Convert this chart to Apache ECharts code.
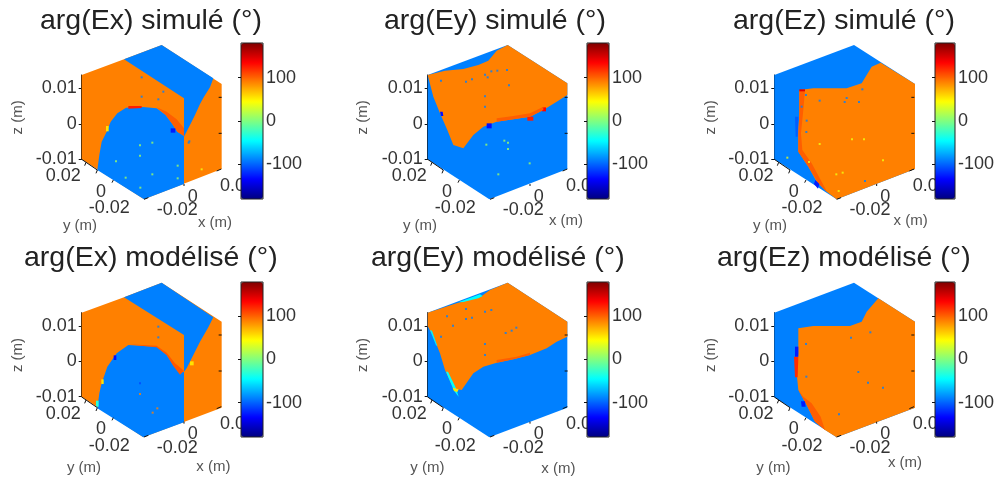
<!DOCTYPE html>
<html><head><meta charset="utf-8">
<style>html,body{margin:0;padding:0;background:#fff}#c{width:1000px;height:481px;filter:blur(0.45px)}</style>
<script src="https://cdn.jsdelivr.net/npm/echarts@6/dist/echarts.min.js"></script>
</head><body><div id="c"></div>
<script>
const titles=['arg(Ex) simulé (°)','arg(Ey) simulé (°)','arg(Ez) simulé (°)','arg(Ex) modélisé (°)','arg(Ey) modélisé (°)','arg(Ez) modélisé (°)'];
const zTicks=[-0.01,0,0.01];
const colorbarTicks=[-100,0,100];
const yTickLabels=['0.02','0','-0.02'];
const xTickLabels=['-0.02','0','0.02'];
const jetColors=['#000080','#0000ff','#0080ff','#00ffff','#80ff80','#ffff00','#ff8000','#ff0000','#800000'];

// Panel surfaces: phase of each region (deg) and its outline in the panel's projected plane.
const exSimPhases=[90,-90,-90,102,125,-125,55];
const exSimShapes=[
 [[245,225],[372,178],[485,135],[665,252],[665,507],[432,598],[245,478]],
 [[372,178],[485,135],[640,235],[630,262],[612,290],[600,312],[585,345],[570,375],[552,410],[552,295]],
 [[292,510],[298,465],[305,425],[320,395],[332,365],[352,340],[378,323],[420,320],[470,325],[497,345],[517,372],[532,395],[552,408],[552,552],[432,598]],
 [[470,322],[500,335],[530,358],[552,385],[552,408],[532,395],[517,372],[497,345]],
 [[385,318],[425,318],[425,324],[385,326]],
 [[512,385],[526,385],[526,398],[512,398]],
 [[318,378],[326,378],[326,394],[318,394]]
];
const exSimSpecks=[[420,436,10],[457,428,10],[420,467,10],[348,484,10],[533,497,10],[457,523,10],[377,533,10],[533,535,10],[421,563,10],[425,232,-90],[490,275,-90],[425,290,-90],[475,298,-90],[568,424,-90],[566,428,-90],[605,508,40]];

const eySimPhases=[-90,90,-130,-130,125,135,102];
const eySimShapes=[
 [[293,225],[533,135],[712,250],[712,507],[478,598],[293,478]],
 [[293,225],[345,212],[400,207],[445,195],[475,182],[500,152],[533,135],[712,250],[712,285],[680,305],[640,330],[600,350],[550,358],[500,365],[460,380],[430,405],[400,445],[370,435],[352,390],[330,340],[310,290]],
 [[330,335],[338,335],[340,348],[333,348]],
 [[470,370],[485,370],[485,385],[470,385]],
 [[592,350],[610,350],[610,362],[592,362]],
 [[636,322],[648,322],[648,334],[636,334]],
 [[500,355],[550,348],[600,340],[640,320],[640,330],[600,350],[550,358],[500,365]]
];
const eySimSpecks=[[333,242,-90],[408,245,-90],[426,238,-90],[465,224,-90],[484,214,-90],[502,212,-90],[531,210,-90],[473,232,-90],[537,256,-90],[465,289,-90],[465,320,-90],[469,434,10],[523,422,10],[534,428,10],[534,447,10],[599,490,10],[505,523,10]];

const ezSimPhases=[-90,90,102,145,-125,-102];
const ezSimShapes=[
 [[313,225],[552,135],[735,252],[735,507],[500,598],[313,478]],
 [[632,188],[735,252],[735,507],[500,598],[470,575],[440,545],[415,500],[385,455],[385,400],[388,340],[388,270],[430,265],[480,265],[530,265],[575,250],[590,225],[605,200]],
 [[388,270],[405,270],[400,330],[393,400],[397,450],[425,490],[452,540],[472,577],[445,550],[415,500],[385,455],[385,400],[388,340]],
 [[388,268],[405,268],[405,274],[388,274]],
 [[436,540],[448,552],[444,566],[432,552]],
 [[375,350],[385,350],[383,410],[377,410]]
];
const ezSimSpecks=[[408,285,-90],[449,302,-90],[530,294,-90],[524,306,-90],[567,306,-90],[577,268,-90],[395,320,-90],[410,362,-90],[409,396,-90],[449,432,40],[546,418,40],[582,418,40],[639,481,40],[417,486,40],[499,523,40],[518,518,40],[585,543,-90],[506,573,40],[352,473,40]];

const exModPhases=[90,-90,-90,104,55,55,-130,-30];
const exModShapes=[
 [[245,218],[372,172],[485,128],[665,245],[665,503],[430,592],[245,470]],
 [[372,172],[485,128],[640,232],[625,262],[600,305],[580,345],[560,385],[552,395],[552,285]],
 [[292,505],[298,460],[305,430],[322,380],[350,340],[385,315],[430,318],[470,320],[500,345],[520,375],[540,398],[552,395],[552,547],[430,592]],
 [[385,313],[470,317],[500,338],[525,370],[552,392],[540,404],[520,378],[500,345],[470,322],[430,318]],
 [[570,364],[581,364],[581,376],[570,376]],
 [[304,418],[311,418],[311,432],[304,432]],
 [[341,346],[349,346],[349,360],[341,360]],
 [[288,482],[296,482],[296,500],[288,500]]
];
const exModSpecks=[[420,430,-110],[420,462,90],[458,518,90],[472,505,90],[475,260,-90],[475,292,-90]];

const eyModPhases=[-90,90,-45,-45,55,-50,102];
const eyModShapes=[
 [[293,218],[533,128],[712,245],[712,503],[478,592],[293,472]],
 [[293,218],[380,190],[450,172],[480,150],[533,128],[712,245],[712,290],[680,305],[650,325],[600,345],[550,358],[500,368],[460,380],[430,400],[395,450],[370,445],[345,390],[330,340],[310,290],[293,258]],
 [[385,187],[450,163],[458,168],[445,175],[400,186]],
 [[348,395],[354,395],[378,445],[386,470],[372,452]],
 [[368,443],[386,448],[382,456],[372,453]],
 [[300,270],[306,272],[322,318],[318,316]],
 [[500,360],[560,350],[600,338],[600,345],[550,358],[500,368]]
];
const eyModSpecks=[[351,229,-90],[408,207,-90],[408,237,-90],[426,233,-90],[465,215,-90],[484,210,-90],[369,257,-90],[333,290,-90],[465,312,-90],[465,345,-90],[527,279,-90],[545,272,-90],[559,263,-90]];

const ezModPhases=[-90,90,102,120,-125,-125];
const ezModShapes=[
 [[313,218],[552,128],[735,245],[735,503],[500,592],[313,472]],
 [[625,175],[735,245],[735,503],[500,592],[465,570],[435,545],[410,495],[385,450],[380,400],[385,340],[385,265],[430,258],[480,258],[540,258],[575,245],[590,215]],
 [[385,450],[400,470],[425,490],[452,530],[465,570],[435,545],[410,495]],
 [[372,350],[385,350],[383,412],[375,412]],
 [[393,484],[405,484],[407,500],[395,500]],
 [[375,320],[385,320],[385,350],[375,350]]
];
const ezModSpecks=[[408,312,-90],[409,410,-90],[543,293,-90],[601,277,-90],[565,396,-90],[594,428,-90],[639,443,-90],[507,523,-90]];

const panelPhases=[exSimPhases,eySimPhases,ezSimPhases,exModPhases,eyModPhases,ezModPhases];
const panelShapes=[exSimShapes,eySimShapes,ezSimShapes,exModShapes,eyModShapes,ezModShapes];
const panelSpecks=[exSimSpecks,eySimSpecks,ezSimSpecks,exModSpecks,eyModSpecks,ezModSpecks];

// Layout
const colLeft=[0,330,670], rowTop=[0,240];
const cubeShift=[0,48,68], rowShift=[0,-7];
const titleLeft=[40,384,733,24,371,717];
const titleTop=[7,7,7,244,244,244];
const cbLeft=[241,587,935], cbWidth=[22,22,20];
const cbTop=[43,282], cbHeight=[156,155];
const zAxisLeft=[81.7,427.7,774.3];
const zAxisTop=[75,312.7], zAxisHeight=[84.5,84];
const yNamePos=[[240,677],[270,677],[300,677],[252,685],[292,685],[310,685]];
const xNamePos=[[645,668],[708,662],[722,662],[640,682],[685,688],[705,668]];
const zNamePos=[[55,352],[100,352],[122,352],[55,345],[100,345],[122,345]];
const edgeMarks=[[[245,478],[292,510]],[[258,487],[254,497]],[[292,510],[288,520]],[[340,540],[336,548]],[[665,292],[656,292]],[[665,400],[656,400]],[[664,507],[650,513]],[[432,598],[445,593]],[[552,552],[552,558]]];

const font='"Liberation Sans",Arial,sans-serif';
const chart=echarts.init(document.getElementById('c'),null,{renderer:'canvas'});
const grid=[],xAxis=[],yAxis=[],series=[],visualMap=[],title=[];
titles.forEach((t,i)=>{
  const c=i%3,r=i<3?0:1,dx=cubeShift[c],dy=rowShift[r];
  title.push({text:t,left:titleLeft[i],top:titleTop[i],padding:0,textStyle:{fontFamily:font,fontSize:28.5,fontWeight:'normal',color:'#222'}});
  grid.push({left:colLeft[c],top:rowTop[r],width:330,height:240,containLabel:false});
  xAxis.push({type:'value',min:0,max:990,show:false,gridIndex:i*3});
  yAxis.push({type:'value',min:0,max:720,inverse:true,show:false,gridIndex:i*3});
  grid.push({left:zAxisLeft[c],top:zAxisTop[r],width:1,height:zAxisHeight[r]});
  xAxis.push({type:'value',show:false,gridIndex:i*3+1,min:0,max:1});
  yAxis.push({type:'value',gridIndex:i*3+1,min:-0.01,max:0.01375,position:'left',
    splitLine:{show:false},axisLine:{show:true,onZero:false,lineStyle:{color:'#111',width:1}},
    axisTick:{show:true,length:3,customValues:zTicks,lineStyle:{color:'#111'}},
    axisLabel:{customValues:zTicks,margin:5,fontFamily:font,fontSize:18,color:'#333',formatter:v=>String(v)}});
  grid.push({left:cbLeft[c],top:cbTop[r],width:cbWidth[c],height:cbHeight[r],show:true,borderColor:'#222',borderWidth:1,backgroundColor:'transparent',z:6});
  xAxis.push({type:'value',show:false,gridIndex:i*3+2,min:0,max:1});
  yAxis.push({type:'value',gridIndex:i*3+2,min:-180,max:180,position:'right',z:7,
    splitLine:{show:false},axisLine:{show:false},
    axisTick:{show:true,inside:true,length:3,customValues:colorbarTicks,lineStyle:{color:'#111'}},
    axisLabel:{customValues:colorbarTicks,margin:3,fontFamily:font,fontSize:18,color:'#333',formatter:v=>String(v)}});

  const shapes=panelShapes[i];
  const surfIdx=series.length;
  series.push({type:'custom',xAxisIndex:i*3,yAxisIndex:i*3,silent:true,clip:false,z:2,animation:false,
    data:panelPhases[i].map((p,k)=>[p,k]),
    renderItem:(params,api)=>{
      const pts=shapes[api.value(1)].map(q=>api.coord(q));
      return {type:'polygon',shape:{points:pts},style:{fill:api.visual('color')}};
    }});
  series.push({type:'scatter',xAxisIndex:i*3,yAxisIndex:i*3,silent:true,clip:false,z:3,animation:false,
    symbol:'rect',symbolSize:2,encode:{x:1,y:2},
    data:panelSpecks[i].map(s=>[s[2],s[0],s[1]])});
  const texts=[];
  const yAnchors=[[190,528],[303,575],[328,625]];
  const xAnchors=[[532,630],[578,590],[660,558]];
  yTickLabels.forEach((l,k)=>texts.push({t:l,u:yAnchors[k][0]+dx,v:yAnchors[k][1]+dy,a:'center',s:18,f:'#333'}));
  xTickLabels.forEach((l,k)=>texts.push({t:l,u:xAnchors[k][0]+dx,v:xAnchors[k][1]+dy,a:k==2?'left':'center',s:18,f:'#333'}));
  texts.push({t:'y (m)',u:yNamePos[i][0],v:yNamePos[i][1],a:'center',s:15,f:'#555'});
  texts.push({t:'x (m)',u:xNamePos[i][0],v:xNamePos[i][1],a:'center',s:15,f:'#555'});
  texts.push({t:'z (m)',u:zNamePos[i][0],v:zNamePos[i][1],a:'center',s:15,f:'#555',rot:Math.PI/2});
  series.push({type:'custom',xAxisIndex:i*3,yAxisIndex:i*3,silent:true,clip:false,z:3,animation:false,
    data:texts.map(q=>[q.u,q.v]),
    renderItem:(params,api)=>{
      const q=texts[params.dataIndex],p=api.coord([api.value(0),api.value(1)]);
      return {type:'text',x:p[0],y:p[1],rotation:q.rot||0,style:{text:q.t,x:0,y:0,align:q.a,verticalAlign:'middle',fontSize:q.s,fontFamily:font,fill:q.f}};
    }});
  series.push({type:'custom',xAxisIndex:i*3,yAxisIndex:i*3,silent:true,clip:false,z:3,animation:false,
    data:edgeMarks.map((e,k)=>[k]),
    renderItem:(params,api)=>{
      const e=edgeMarks[api.value(0)];
      const a=api.coord([e[0][0]+dx,e[0][1]+dy]),b=api.coord([e[1][0]+dx,e[1][1]+dy]);
      return {type:'line',shape:{x1:a[0],y1:a[1],x2:b[0],y2:b[1]},style:{stroke:'#111',lineWidth:1}};
    }});
  visualMap.push({type:'continuous',min:-180,max:180,dimension:0,seriesIndex:[surfIdx,surfIdx+1],
    left:cbLeft[c],top:cbTop[r],itemWidth:cbWidth[c],itemHeight:cbHeight[r],padding:0,
    calculable:false,hoverLink:false,realtime:false,inRange:{color:jetColors},z:5});
});
chart.setOption({animation:false,backgroundColor:'#fff',title,grid,xAxis,yAxis,series,visualMap});
</script></body></html>
